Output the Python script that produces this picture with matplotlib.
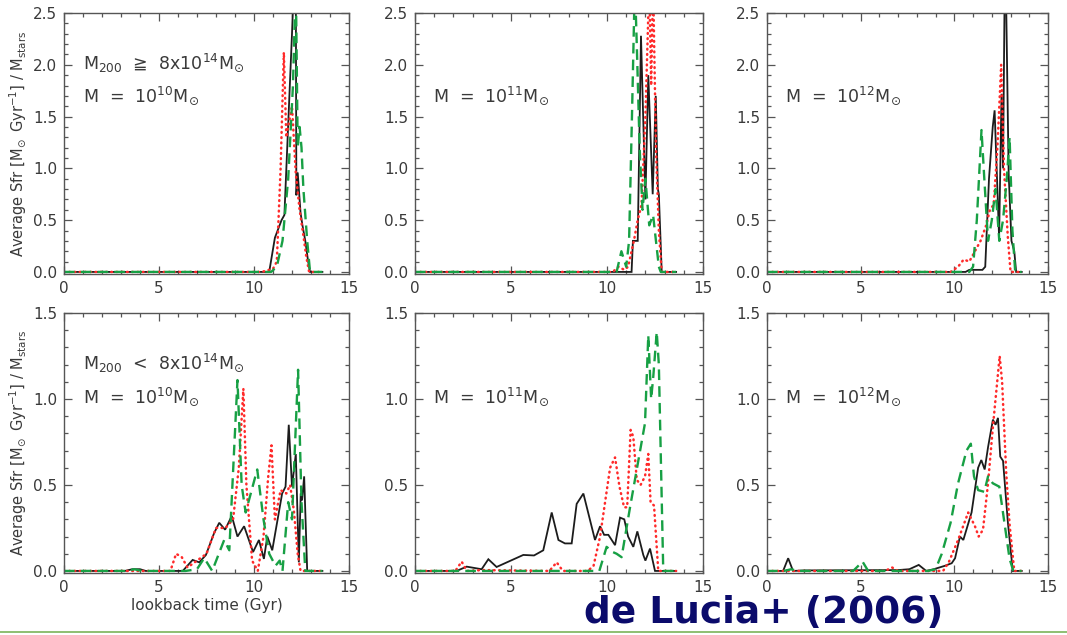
import matplotlib
matplotlib.use("Agg")
import matplotlib.pyplot as plt
from matplotlib.ticker import MultipleLocator
from matplotlib.lines import Line2D

# ---------------- data (lookback time in Gyr, average SFR) ----------------
# Top row: M200 >= 8x10^14 Msun
tl_black_t = [0, 10.8, 11.1, 11.45, 11.6, 12.0, 12.1, 12.2, 12.23, 12.3, 12.45, 12.55, 12.7, 12.85, 12.95, 13.6]
tl_black_v = [0, 0, 0.33, 0.5, 0.55, 2.3, 2.8, 2.8, 0.74, 0.96, 0.57, 0.45, 0.3, 0.1, 0, 0]
tl_red_t = [0, 10.4, 10.8, 11.0, 11.2, 11.4, 11.57, 11.7, 11.85, 12.0, 12.2, 12.4, 12.6, 12.75, 12.9, 13.6]
tl_red_v = [0, 0, 0.02, 0.03, 0.1, 1.0, 2.12, 1.3, 1.45, 1.6, 0.95, 0.6, 0.35, 0.15, 0.0, 0.0]
tl_green_t = [0, 10.9, 11.2, 11.5, 11.8, 12.05, 12.2, 12.3, 12.4, 12.5, 12.6, 12.8, 12.95, 13.6]
tl_green_v = [0, 0, 0.05, 0.3, 0.9, 1.8, 2.8, 1.2, 1.4, 1.2, 0.8, 0.3, 0, 0]

tm_black_t = [0, 11.28, 11.35, 11.6, 11.77, 12.0, 12.15, 12.38, 12.54, 12.65, 12.7, 12.85, 13.6]
tm_black_v = [0, 0, 0.3, 0.3, 2.28, 0.7, 1.9, 0.75, 1.7, 0.8, 0.75, 0, 0]
tm_red_t = [0, 10.3, 10.6, 10.9, 11.1, 11.4, 11.6, 11.8, 12.0, 12.2, 12.3, 12.4, 12.55, 12.7, 12.85, 13.6]
tm_red_v = [0, 0, 0.05, 0.02, 0.05, 0.3, 0.5, 0.65, 1.5, 2.8, 1.8, 2.8, 1.2, 0.4, 0, 0]
tm_green_t = [0, 10.5, 10.75, 11.0, 11.15, 11.3, 11.45, 11.55, 11.7, 11.85, 12.0, 12.2, 12.4, 12.55, 12.7, 12.8, 13.6]
tm_green_v = [0, 0, 0.2, 0.05, 0.3, 1.5, 2.8, 2.2, 1.2, 0.6, 0.9, 0.45, 0.55, 0.3, 0.05, 0, 0]

tr_black_t = [0, 10.6, 10.8, 11.5, 11.65, 11.85, 12.05, 12.15, 12.39, 12.52, 12.6, 12.69, 12.75, 12.9, 13.05, 13.2, 13.3, 13.6]
tr_black_v = [0, 0, 0.02, 0.02, 0.05, 0.9, 1.4, 1.56, 0.33, 1.72, 1.0, 2.8, 2.8, 0.95, 0.3, 0.2, 0, 0]
tr_red_t = [0, 9.8, 10.2, 10.5, 10.8, 11.1, 11.4, 11.7, 11.9, 12.1, 12.3, 12.5, 12.65, 12.85, 13.0, 13.6]
tr_red_v = [0, 0, 0.05, 0.12, 0.1, 0.2, 0.3, 0.45, 0.6, 0.65, 1.2, 2.0, 1.0, 0.35, 0, 0]
tr_green_t = [0, 10.8, 11.0, 11.2, 11.45, 11.6, 11.8, 12.0, 12.2, 12.4, 12.6, 12.8, 12.95, 13.1, 13.25, 13.6]
tr_green_v = [0, 0, 0.05, 0.5, 1.37, 0.9, 0.3, 0.5, 0.8, 0.3, 0.5, 0.9, 1.3, 0.4, 0, 0]

# Bottom row: M200 < 8x10^14 Msun
bl_black_t = [0, 3.2, 3.6, 4.0, 4.3, 6.25, 6.77, 7.12, 7.47, 7.9, 8.17, 8.48, 8.83, 9.13, 9.48, 9.95, 10.26,
              10.52, 10.7, 10.96, 11.48, 11.66, 11.83, 12.0, 12.2, 12.36, 12.46, 12.53, 12.64, 12.8, 13.6]
bl_black_v = [0, 0, 0.01, 0.01, 0, 0, 0.064, 0.05, 0.093, 0.22, 0.28, 0.24, 0.32, 0.2, 0.26, 0.11, 0.18,
              0.07, 0.2, 0.12, 0.45, 0.49, 0.85, 0.49, 0.68, 0.05, 0.45, 0.41, 0.55, 0, 0]
bl_red_t = [0, 5.6, 5.9, 6.2, 6.5, 7.0, 7.5, 8.0, 8.5, 8.9, 9.2, 9.44, 9.6, 9.9, 10.2, 10.5, 10.75, 10.92,
            11.1, 11.4, 11.7, 11.9, 12.1, 12.3, 12.45, 13.6]
bl_red_v = [0, 0, 0.1, 0.08, 0.02, 0.06, 0.1, 0.25, 0.25, 0.3, 0.6, 1.06, 0.5, 0.06, 0.0, 0.2, 0.55, 0.73,
            0.3, 0.47, 0.45, 0.5, 0.35, 0.1, 0, 0]
bl_green_t = [0, 3.3, 3.7, 4.1, 6.4, 7.0, 7.38, 7.8, 8.43, 8.7, 9.13, 9.35, 9.56, 10.17, 10.5, 10.8, 11.13,
              11.35, 11.5, 11.8, 12.0, 12.32, 12.5, 12.7, 13.6]
bl_green_v = [0, 0, 0.01, 0, 0, 0.01, 0.075, 0.0, 0.18, 0.12, 1.11, 0.5, 0.34, 0.59, 0.3, 0.1, 0.03,
              0.06, 0.0, 0.4, 0.3, 1.17, 0.4, 0, 0]

bm_black_t = [0, 2.17, 2.69, 3.47, 3.82, 4.25, 5.64, 6.2, 6.68, 7.12, 7.47, 7.81, 8.16, 8.42, 8.77, 9.375,
              9.64, 9.85, 10.07, 10.42, 10.68, 10.9, 11.1, 11.37, 11.58, 11.89, 12.0, 12.24, 12.5, 13.6]
bm_black_v = [0, 0, 0.025, 0.01, 0.068, 0.023, 0.093, 0.09, 0.12, 0.34, 0.18, 0.16, 0.16, 0.39, 0.45, 0.18,
              0.26, 0.21, 0.21, 0.15, 0.31, 0.3, 0.2, 0.14, 0.23, 0.093, 0.06, 0.13, 0, 0]
bm_red_t = [0, 2.1, 2.43, 2.7, 3.5, 7.0, 7.38, 7.7, 9.0, 9.3, 9.64, 10.16, 10.42, 10.65, 10.89, 11.05,
            11.23, 11.37, 11.55, 11.75, 11.98, 12.15, 12.27, 12.45, 12.67, 13.6]
bm_red_v = [0, 0, 0.054, 0, 0.005, 0.0, 0.05, 0.0, 0.0, 0.03, 0.2, 0.6, 0.66, 0.49, 0.37, 0.37,
            0.82, 0.78, 0.53, 0.5, 0.55, 0.68, 0.4, 0.38, 0, 0]
bm_green_t = [0, 9.6, 9.98, 10.3, 10.5, 10.76, 11.2, 11.55, 11.98, 12.15, 12.3, 12.41, 12.59, 12.7, 12.93, 13.6]
bm_green_v = [0, 0, 0.14, 0.11, 0.1, 0.08, 0.37, 0.59, 0.86, 1.37, 1.0, 1.13, 1.39, 1.2, 0, 0]

br_black_t = [0, 0.86, 1.13, 1.39, 2.0, 7.0, 7.6, 8.1, 8.5, 8.9, 9.2, 9.5, 9.86, 10.04, 10.3, 10.48, 10.92,
              11.27, 11.44, 11.62, 11.8, 12.06, 12.2, 12.33, 12.45, 12.6, 12.86, 13.12, 13.6]
br_black_v = [0, 0, 0.074, 0, 0.003, 0.005, 0.01, 0.035, 0.0, 0.01, 0.02, 0.03, 0.045, 0.074, 0.2, 0.18, 0.34,
              0.6, 0.645, 0.59, 0.72, 0.88, 0.85, 0.89, 0.665, 0.64, 0.28, 0, 0]
br_red_t = [0, 6.3, 6.68, 7.0, 9.4, 9.7, 10.2, 10.74, 11.1, 11.3, 11.53, 11.8, 12.06, 12.42, 12.55, 12.77,
            12.95, 13.2, 13.6]
br_red_v = [0, 0, 0.02, 0.0, 0.0, 0.05, 0.18, 0.34, 0.26, 0.2, 0.24, 0.51, 0.84, 1.25, 1.1, 0.57,
            0.27, 0, 0]
br_green_t = [0, 0.9, 1.3, 1.6, 4.6, 5.1, 5.4, 8.6, 9.0, 9.33, 9.8, 10.2, 10.65, 10.88, 11.05, 11.27, 11.6,
              11.8, 12.05, 12.4, 12.7, 12.95, 13.15, 13.6]
br_green_v = [0, 0, 0.01, 0, 0, 0.054, 0, 0, 0.01, 0.1, 0.28, 0.51, 0.7, 0.74, 0.55, 0.47, 0.46,
              0.55, 0.51, 0.49, 0.26, 0.07, 0, 0]

top_labels = [r"M  =  10$^{10}$M$_{\!\odot}$", r"M  =  10$^{11}$M$_{\!\odot}$", r"M  =  10$^{12}$M$_{\!\odot}$"]
row_labels = [r"M$_{200}$  ≧  8x10$^{14}$M$_{\!\odot}$", r"M$_{200}$  <  8x10$^{14}$M$_{\!\odot}$"]
xlabel_text = "lookback time (Gyr)"
ylabel_text = r"Average Sfr [M$_{\!\odot}$ Gyr$^{-1}$] / M$_{\rm stars}$"
credit_text = "de Lucia+ (2006)"

panels = [
    [(tl_black_t, tl_black_v, tl_red_t, tl_red_v, tl_green_t, tl_green_v),
     (tm_black_t, tm_black_v, tm_red_t, tm_red_v, tm_green_t, tm_green_v),
     (tr_black_t, tr_black_v, tr_red_t, tr_red_v, tr_green_t, tr_green_v)],
    [(bl_black_t, bl_black_v, bl_red_t, bl_red_v, bl_green_t, bl_green_v),
     (bm_black_t, bm_black_v, bm_red_t, bm_red_v, bm_green_t, bm_green_v),
     (br_black_t, br_black_v, br_red_t, br_red_v, br_green_t, br_green_v)],
]

# ---------------- layout ----------------
W, H = 1067, 635
fig = plt.figure(figsize=(W / 100, H / 100), dpi=100)
plt.rcParams['mathtext.fontset'] = 'dejavusans'

col_px = [(64, 349), (415, 703), (767, 1048)]
row_px = [(13, 274), (313, 573)]
ylims = [(-0.02, 2.5), (-0.012, 1.5)]

frame_c = '#555555'
text_c = '#3a3a3a'
black_c = '#1c1c1c'
red_c = '#ff2a2a'
green_c = '#17a044'

for r in range(2):
    for c in range(3):
        x0, x1 = col_px[c]
        y0, y1 = row_px[r]
        ax = fig.add_axes([x0 / W, (H - y1) / H, (x1 - x0) / W, (y1 - y0) / H])
        bt, bv, rt, rv, gt, gv = panels[r][c]
        ax.plot(bt, bv, color=black_c, lw=1.3, solid_joinstyle='miter')
        ax.plot(rt, rv, color=red_c, lw=1.8, linestyle=(0, (0.3, 1.8)), dash_capstyle='round')
        ax.plot(gt, gv, color=green_c, lw=1.7, linestyle=(0, (4.5, 2.6)))
        ax.set_xlim(0, 15)
        ax.set_ylim(*ylims[r])
        ax.xaxis.set_major_locator(MultipleLocator(5))
        ax.xaxis.set_minor_locator(MultipleLocator(1))
        ax.yaxis.set_major_locator(MultipleLocator(0.5))
        ax.yaxis.set_minor_locator(MultipleLocator(0.1))
        ax.yaxis.set_major_formatter(matplotlib.ticker.FormatStrFormatter('%.1f'))
        ax.tick_params(which='both', direction='in', top=True, right=True, colors=frame_c,
                       labelcolor=text_c, labelsize=11, width=0.9)
        ax.tick_params(which='major', length=6, pad=5)
        ax.tick_params(which='minor', length=3)
        for s in ax.spines.values():
            s.set_color(frame_c)
            s.set_linewidth(1.0)
        if c == 0:
            ax.text(0.067, 0.81, row_labels[r], transform=ax.transAxes, va='center', ha='left',
                    fontsize=12.5, color=text_c)
            ax.text(0.067, 0.683 if r == 0 else 0.677, top_labels[c], transform=ax.transAxes,
                    va='center', ha='left', fontsize=12.5, color=text_c)
            fig.text(18 / W, 1 - ((y0 + y1) / 2) / H, ylabel_text, rotation=90, va='center', ha='center',
                     fontsize=10.5, color=text_c)
        else:
            ax.text(0.063, 0.683 if r == 0 else 0.677, top_labels[c], transform=ax.transAxes,
                    va='center', ha='left', fontsize=12.5, color=text_c)
        if r == 1 and c == 0:
            ax.set_xlabel(xlabel_text, fontsize=11, color=text_c, labelpad=2)

fig.text(764 / W, 1 - 613 / H, credit_text, ha='center', va='center', fontsize=27,
         fontweight='bold', color='#0b0b6b')
fig.add_artist(Line2D([0, 1], [1 - 632 / H, 1 - 632 / H], transform=fig.transFigure,
                      color='#7cb45a', lw=1.2))

fig.savefig("out.png", dpi=100)
